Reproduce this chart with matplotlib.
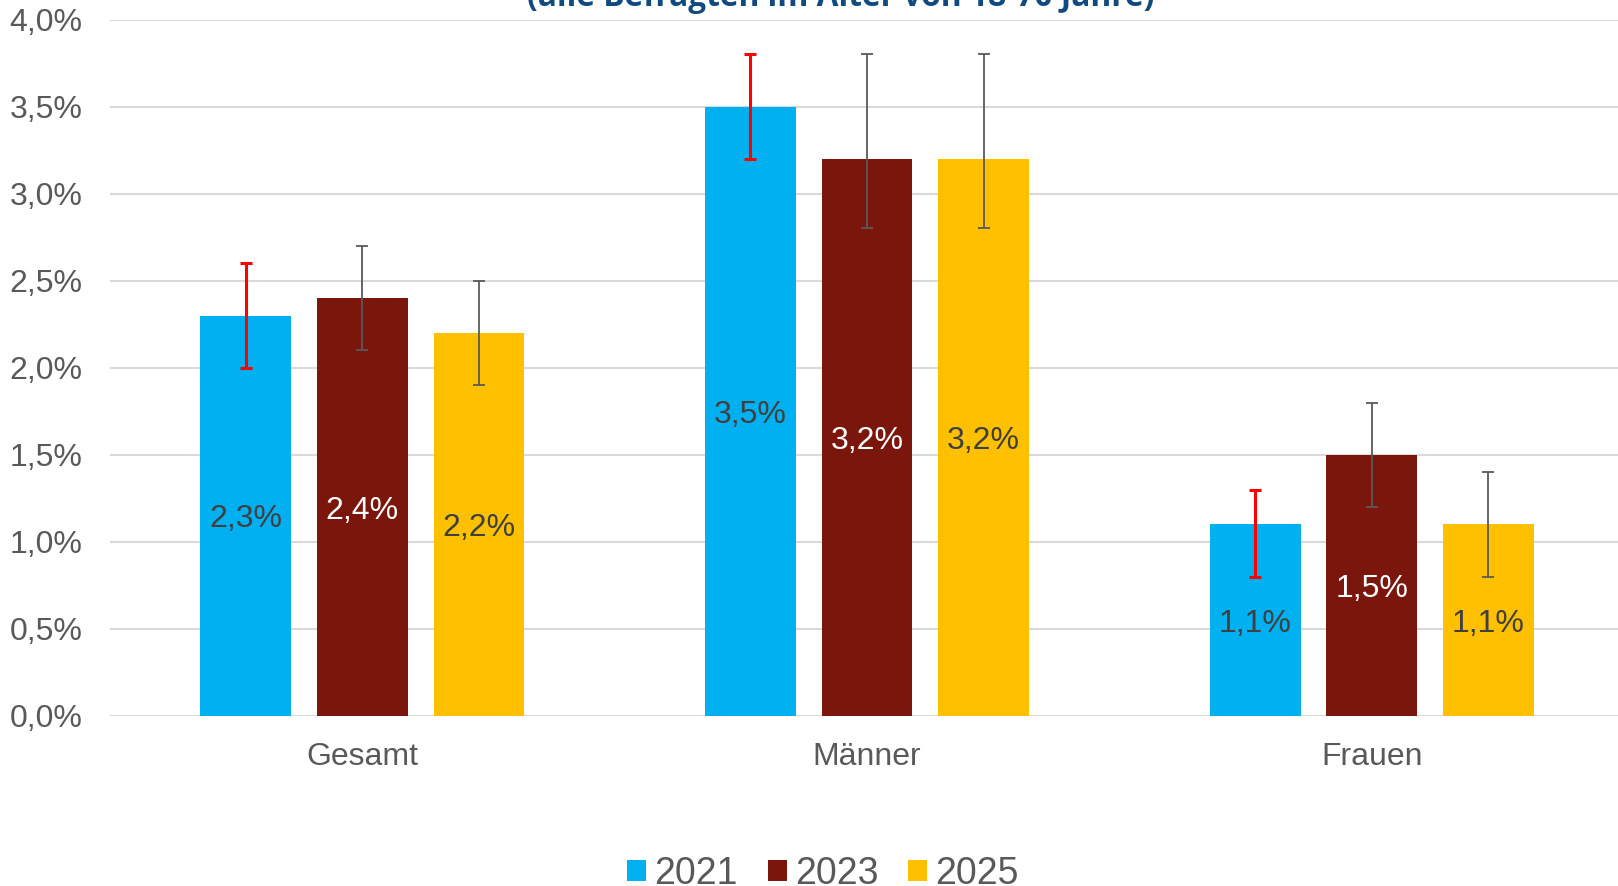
import numpy as np
import matplotlib.pyplot as plt

plt.rcParams['font.family'] = ['Liberation Sans', 'DejaVu Sans']

kategorien = ['Gesamt', 'Männer', 'Frauen']
jahre = ['2021', '2023', '2025']
werte = {
    '2021': [2.3, 3.5, 1.1],
    '2023': [2.4, 3.2, 1.5],
    '2025': [2.2, 3.2, 1.1],
}
untere = {
    '2021': [2.0, 3.2, 0.8],
    '2023': [2.1, 2.8, 1.2],
    '2025': [1.9, 2.8, 0.8],
}
obere = {
    '2021': [2.6, 3.8, 1.3],
    '2023': [2.7, 3.8, 1.8],
    '2025': [2.5, 3.8, 1.4],
}
farben = {'2021': '#00B0F0', '2023': '#7A160C', '2025': '#FFC000'}
textfarben = {'2021': '#404040', '2023': 'white', '2025': '#404040'}
fehlerfarben = {'2021': '#FF0000', '2023': '#595959', '2025': '#595959'}

fig = plt.figure(figsize=(16.18, 8.86), dpi=100)
# axes etwas breiter als die Figur, Gitterlinien laufen rechts raus
ax = fig.add_axes([0.068, 0.1919, 0.9357, 0.786])

x = np.arange(len(kategorien))
breite = 0.18
abstand = 0.231

for i, jahr in enumerate(jahre):
    pos = x + (i - 1) * abstand
    w = np.array(werte[jahr])
    ax.bar(pos, w, breite, color=farben[jahr], label=jahr, zorder=2)
    fehler = [w - np.array(untere[jahr]), np.array(obere[jahr]) - w]
    if jahr == '2021':
        ax.errorbar(pos, w, yerr=fehler, fmt='none', ecolor=fehlerfarben[jahr],
                    elinewidth=2.2, capsize=4.3, capthick=2.2, zorder=3)
    else:
        ax.errorbar(pos, w, yerr=fehler, fmt='none', ecolor=fehlerfarben[jahr],
                    elinewidth=1.3, capsize=4.3, capthick=1.3, zorder=3)
    for p, v in zip(pos, w):
        ax.text(p, v / 2, f'{v:.1f}%'.replace('.', ','), ha='center', va='center_baseline',
                fontsize=23, color=textfarben[jahr], zorder=4)

ax.set_ylim(0, 4.0)
ax.set_xlim(-0.5, 2.5)
ax.set_yticks(np.arange(0, 4.01, 0.5))
ax.set_yticklabels([f'{t:.1f}%'.replace('.', ',') for t in np.arange(0, 4.01, 0.5)])
ax.set_xticks(x)
ax.set_xticklabels(kategorien)
ax.tick_params(axis='y', length=0, pad=20, labelsize=23, labelcolor='#595959')
ax.tick_params(axis='x', length=0, pad=19, labelsize=23, labelcolor='#595959')
ax.grid(axis='y', color='#D9D9D9', linewidth=1.5, zorder=0)
ax.set_axisbelow(True)
for s in ax.spines.values():
    s.set_visible(False)

fig.text(841 / 1618, 1 - 14 / 886, '(alle Befragten im Alter von 18-70 Jahre)',
         ha='center', va='bottom', fontsize=22.8, fontweight='bold', color='#114A7E',
         family=['Open Sans', 'DejaVu Sans'])

fig.legend(loc='center', bbox_to_anchor=(823 / 1618, 1 - 874 / 886), ncol=3,
           frameon=False, fontsize=27, labelcolor='#595959', handlelength=0.5,
           handleheight=0.5, handletextpad=0.22, columnspacing=0.8)

plt.savefig('out.png', dpi=100)
